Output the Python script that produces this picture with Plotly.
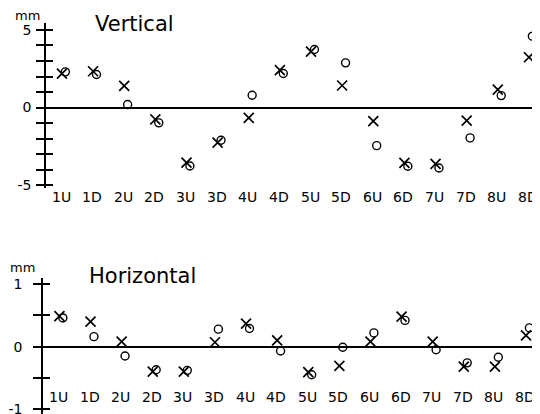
import plotly.graph_objects as go

# ---- data ----
categories = ["1U", "1D", "2U", "2D", "3U", "3D", "4U", "4D",
              "5U", "5D", "6U", "6D", "7U", "7D", "8U", "8D"]
vertical_x = [2.19, 2.34, 1.39, -0.77, -3.55, -2.26, -0.67, 2.41,
              3.60, 1.42, -0.88, -3.57, -3.64, -0.84, 1.16, 3.24]
vertical_o = [2.30, 2.13, 0.19, -0.99, -3.77, -2.11, 0.79, 2.19,
              3.74, 2.88, -2.46, -3.79, -3.90, -1.96, 0.77, 4.60]
horizontal_x = [0.49, 0.40, 0.08, -0.40, -0.40, 0.07, 0.37, 0.10,
                -0.41, -0.31, 0.08, 0.48, 0.08, -0.32, -0.32, 0.18]
horizontal_o = [0.46, 0.16, -0.15, -0.37, -0.38, 0.28, 0.29, -0.07,
                -0.45, -0.01, 0.22, 0.42, -0.05, -0.26, -0.17, 0.30]
vert_ticks = [-5, -4, -3, -2, -1, 0, 1, 2, 3, 4, 5]
vert_ticktext = ["-5", "", "", "", "", "0", "", "", "", "", "5"]
horiz_ticks = [-1, -0.5, 0, 0.5, 1]
horiz_ticktext = ["-1", "", "0", "", "1"]

FONT = "DejaVu Sans"
idx = list(range(len(categories)))
X_OFF, O_OFF = 0.03, 0.14

# The page body has an 8px default margin: lay the figure out in page pixels minus 8.
PAD = 8
W, H = 540 - PAD, 414 - PAD


def px(tx):
    return (tx - PAD) / W


def py(ty):
    return 1 - (ty - PAD) / H


fig = go.Figure()
annotations = []


def add_panel(xref, yref, ys_x, ys_o, label_py):
    fig.add_trace(go.Scatter(
        x=[i + X_OFF for i in idx], y=ys_x, mode="markers", xaxis=xref, yaxis=yref,
        marker=dict(symbol="x-thin-open", size=10, color="black",
                    line=dict(color="black", width=1.7)),
        showlegend=False, hoverinfo="skip"))
    fig.add_trace(go.Scatter(
        x=[i + O_OFF for i in idx], y=ys_o, mode="markers", xaxis=xref, yaxis=yref,
        marker=dict(symbol="circle-open", size=8, color="black",
                    line=dict(color="black", width=1.4)),
        showlegend=False, hoverinfo="skip"))
    for i, c in zip(idx, categories):
        annotations.append(dict(
            text=c, x=i, xref=xref, y=py(label_py), yref="paper", showarrow=False,
            xanchor="center", yanchor="middle",
            font=dict(family=FONT, size=14, color="black")))


add_panel("x", "y", vertical_x, vertical_o, 197)
add_panel("x2", "y2", horizontal_x, horizontal_o, 397)
# dummy traces so the overlay tick axes are drawn
fig.add_trace(go.Scatter(x=[None], y=[None], xaxis="x", yaxis="y3", showlegend=False, hoverinfo="skip"))
fig.add_trace(go.Scatter(x=[None], y=[None], xaxis="x2", yaxis="y4", showlegend=False, hoverinfo="skip"))

top_range = [-5.19, 5.45]
bot_range = [-1.08, 1.1]

xcommon = dict(showgrid=False, zeroline=False, showline=False, showticklabels=False, ticks="")
ycommon = dict(showgrid=False, showline=True, linecolor="black", linewidth=1.5,
               zeroline=True, zerolinecolor="black", zerolinewidth=2,
               ticks="outside", ticklen=8, tickwidth=1.5, tickcolor="black",
               ticklabeloverflow="allow",
               tickfont=dict(family=FONT, size=14, color="black"))
yover = dict(showgrid=False, showline=False, zeroline=False, showticklabels=False,
             ticks="inside", ticklen=7, tickwidth=1.5, tickcolor="black", side="left")

annotations += [
    dict(text="Vertical", x=px(93), y=py(23.5), xref="paper", yref="paper", showarrow=False,
         xanchor="left", yanchor="middle", font=dict(family=FONT, size=21, color="black")),
    dict(text="mm", x=px(27), y=py(15.5), xref="paper", yref="paper", showarrow=False,
         xanchor="center", yanchor="middle", font=dict(family=FONT, size=13, color="black")),
    dict(text="Horizontal", x=px(87), y=py(276), xref="paper", yref="paper", showarrow=False,
         xanchor="left", yanchor="middle", font=dict(family=FONT, size=21, color="black")),
    dict(text="mm", x=px(22), y=py(267.5), xref="paper", yref="paper", showarrow=False,
         xanchor="center", yanchor="middle", font=dict(family=FONT, size=13, color="black")),
]

fig.update_layout(
    width=W, height=H, margin=dict(l=0, r=0, t=0, b=0),
    paper_bgcolor="white", plot_bgcolor="white",
    template="none",
    xaxis=dict(domain=[px(46), 1], range=[-0.482, 15.385], anchor="y", **xcommon),
    yaxis=dict(domain=[py(188), py(23)], range=top_range, anchor="x",
               tickvals=vert_ticks, ticktext=vert_ticktext, ticklabelstandoff=2, **ycommon),
    yaxis3=dict(overlaying="y", anchor="x", range=top_range, tickvals=vert_ticks, **yover),
    xaxis2=dict(domain=[px(43), 1], range=[-0.498, 15.48], anchor="y2", **xcommon),
    yaxis2=dict(domain=[0, py(278)], range=bot_range, anchor="x2",
                tickvals=horiz_ticks, ticktext=horiz_ticktext, ticklabelstandoff=8, **ycommon),
    yaxis4=dict(overlaying="y2", anchor="x2", range=bot_range, tickvals=horiz_ticks, **yover),
    annotations=annotations,
)

fig.write_html("out.html")
